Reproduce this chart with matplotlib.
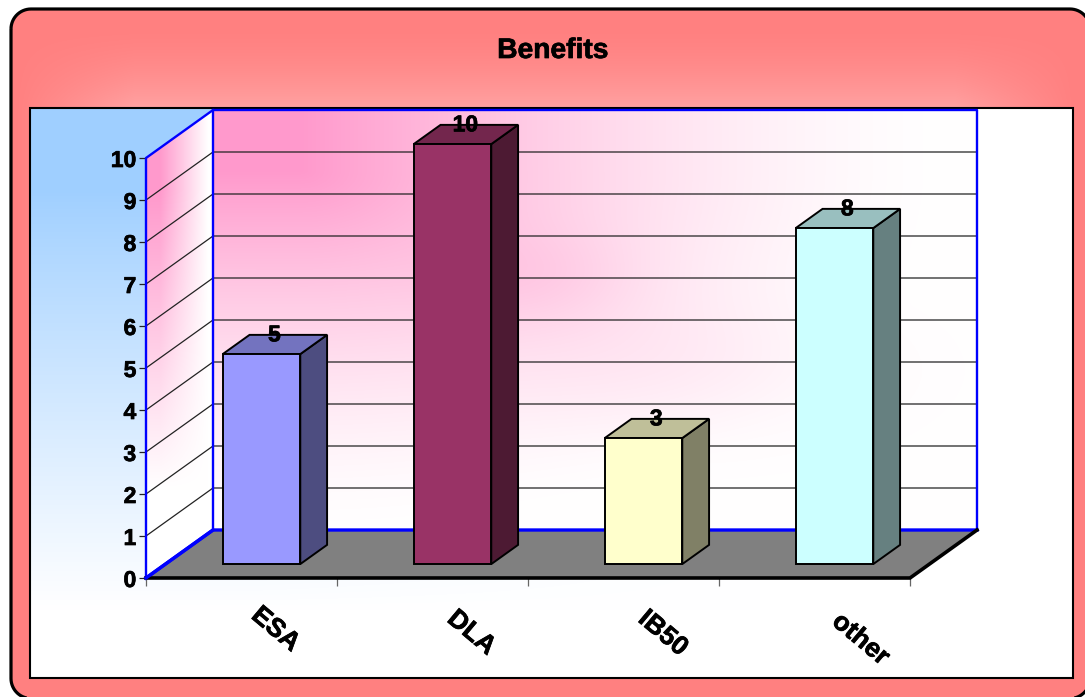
import matplotlib
matplotlib.use('Agg')
import matplotlib.pyplot as plt
import matplotlib.patheffects as pe
import numpy as np
from matplotlib.colors import to_rgb
from matplotlib.patches import Polygon, Rectangle

categories = ['ESA', 'DLA', 'IB50', 'other']
values = [5, 10, 3, 8]
bar_colors = ['#9999ff', '#993366', '#ffffcc', '#ccffff']
y_ticks = list(range(0, 11))

W, H = 1085, 697
plt.rcParams['font.family'] = ['Liberation Sans', 'DejaVu Sans']
plt.rcParams['font.weight'] = 'bold'

# slight stroke so the bold labels come out heavy enough
heavy = [pe.withStroke(linewidth=0.5, foreground='black')]

fig = plt.figure(figsize=(W / 100, H / 100), dpi=100, facecolor='white')

# background layer in pixel coordinates
bg = fig.add_axes([0, 0, 1, 1])
bg.set_xlim(0, W)
bg.set_ylim(H, 0)
bg.axis('off')

xx, yy = np.meshgrid(np.arange(W) + 0.5, np.arange(H) + 0.5)


def blend(c0, c1, t):
    c0 = np.array(to_rgb(c0))
    c1 = np.array(to_rgb(c1))
    return c0 + (c1 - c0) * np.clip(t, 0, 1)[..., None]


def paint(rgb, clip_patch):
    im = bg.imshow(rgb, extent=(0, W, H, 0), aspect='auto', interpolation='bilinear', zorder=clip_patch.get_zorder())
    im.set_clip_path(clip_patch)


def rounded_outline(x0, y0, x1, y1, r):
    # corner arcs as plain segments, going clockwise from the top left
    centers = [(x0 + r, y0 + r), (x1 - r, y0 + r), (x1 - r, y1 - r), (x0 + r, y1 - r)]
    pts = []
    for k, (cx, cy) in enumerate(centers):
        a = np.linspace(np.pi + k * np.pi / 2, 1.5 * np.pi + k * np.pi / 2, 16)
        pts.extend(zip(cx + r * np.cos(a), cy + r * np.sin(a)))
    return pts


# outer rounded frame, its right side runs off the canvas
outline = rounded_outline(11, 9, 1090, 698.5, 20)
clip = Polygon(outline, closed=True, fc='none', ec='none', zorder=1)
bg.add_patch(clip)
# lighter glow only in the title band
glow = np.clip((yy - 25) / 85, 0, 1) ** 1.6 * np.clip((530 - np.abs(xx - 545)) / 120, 0, 1) * (yy < 300)
paint(blend('#ff8080', '#ffa3a3', glow), clip)
bg.add_patch(Polygon(outline, closed=True, fc='none', ec='black', lw=2.3, zorder=2.1, clip_on=False))

# inner panel, blue fading towards white
panel = Rectangle((30, 108), 1043, 570, fc='none', ec='none', zorder=3)
bg.add_patch(panel)
fade = np.clip((yy - 190) / 420, 0, 1) ** 0.9
side_mask = np.clip((760 - xx) / 500, 0, 1)
paint(blend('#ffffff', '#9fcfff', (1 - fade) * side_mask), panel)
bg.add_patch(Rectangle((30, 108), 1043, 570, fc='none', ec='black', lw=1.5, zorder=3.5))

# back wall and side wall gradients
back = Polygon([(213, 109), (977, 109), (977, 530), (213, 530)], closed=True, fc='none', ec='none', zorder=4)
bg.add_patch(back)
dist = np.hypot(np.maximum(xx - 300, 0) / 660, np.maximum(yy - 170, 0) / 372)
lobe = (np.exp(-(((xx - 540) / 100) ** 2 + ((yy - 280) / 50) ** 2)) * 0.15
        + np.exp(-(((xx - 680) / 180) ** 2 + ((yy - 370) / 70) ** 2)) * 0.12)
paint(blend('#ffffff', '#ff99cc', np.clip(1 - dist, 0, 1) ** 1.6 + lobe), back)

side = Polygon([(146, 158), (213, 109), (213, 530), (146, 578)], closed=True, fc='none', ec='none', zorder=4)
bg.add_patch(side)
side_t = np.clip(1 - (xx - 160) / 48, 0, 1) * np.clip((490 - yy) / 300, 0, 1)
paint(blend('#ffffff', '#ff99cc', side_t), side)

# chart axes: front edge of the floor runs along the x axis
ax = fig.add_axes([146 / W, 1 - 578 / H, (910 - 146) / W, 420 / H], zorder=5)
ax.patch.set_alpha(0)
ax.set_xlim(0, len(categories))
ax.set_ylim(0, 10)
for spine in ax.spines.values():
    spine.set_visible(False)

DX = 67 / 191
DY = 48 / 42


def proj(x, y, d):
    # d = 0 on the front of the floor, d = 1 on the back wall
    return x + DX * d, y + DY * d


def poly(points, **kw):
    p = Polygon([proj(*q) for q in points], closed=True, clip_on=False, **kw)
    ax.add_patch(p)


n = len(categories)
poly([(0, 0, 0), (n, 0, 0), (n, 0, 1), (0, 0, 1)], fc='#808080', ec='none', zorder=1)

# gridlines on both walls
for t in y_ticks[1:-1]:
    ax.plot(*zip(proj(0, t, 0), proj(0, t, 1), proj(n, t, 1)), color='#222222', lw=0.9,
            clip_on=False, zorder=1.5)

blue = '#0000ff'
ax.plot(*zip(proj(0, 0, 0), proj(0, 10, 0), proj(0, 10, 1), proj(n, 10, 1), proj(n, 0, 1)),
        color=blue, lw=1.7, clip_on=False, zorder=2)
ax.plot(*zip(proj(0, 10, 1), proj(0, 0, 1)), color=blue, lw=1.7, clip_on=False, zorder=2)
ax.plot(*zip(proj(0, 0, 0), proj(0, 0, 1), proj(n, 0, 1)), color=blue, lw=2.4, clip_on=False, zorder=2)

# thick black edge along the front and right of the floor
ax.plot(*zip(proj(0, 0, 0), proj(n, 0, 0), proj(n, 0, 1)), color='black', lw=2.6,
        clip_on=False, zorder=2.5, solid_joinstyle='miter')
ax.plot(*zip(proj(0, 0, 0), proj(0, 0, 1)), color=blue, lw=2.4, clip_on=False, zorder=2.6)

# bars
half = 0.203
d0, d1 = 0.29, 0.69
for i, (v, c) in enumerate(zip(values, bar_colors)):
    c = np.array(to_rgb(c))
    x0, x1 = i + 0.503 - half, i + 0.503 + half
    poly([(x1, 0, d0), (x1, 0, d1), (x1, v, d1), (x1, v, d0)], fc=c * 0.5, ec='black', lw=1.4, zorder=3)
    poly([(x0, v, d0), (x1, v, d0), (x1, v, d1), (x0, v, d1)], fc=c * 0.75, ec='black', lw=1.4, zorder=3)
    poly([(x0, 0, d0), (x1, 0, d0), (x1, v, d0), (x0, v, d0)], fc=c, ec='black', lw=1.4, zorder=3.1)
    lx = proj(i + 0.5, v, (d0 + d1) / 2)[0]
    ly = proj(i + 0.5, v, d1)[1]
    ax.text(lx, ly, str(v), ha='center', va='center', fontsize=16.5, fontweight='bold', color='black', zorder=4,
            path_effects=heavy)

ax.set_xticks(range(n + 1))
ax.set_xticklabels([])
ax.set_yticks(y_ticks)
ax.set_yticklabels([str(t) for t in y_ticks], fontsize=16.5, fontweight='bold', path_effects=heavy)
ax.tick_params(axis='y', length=5, width=0.9, color='#222222', pad=2)
ax.tick_params(axis='x', length=6, width=0.9, color='#666666')

# rotated category labels, small per-label nudges in points
nudge_x = [9.5, 13, 13, 15]
nudge_y = [-24.5, -27, -27, -29]
for i, name in enumerate(categories):
    ax.annotate(name, (i + 0.5, 0), xytext=(nudge_x[i], nudge_y[i]), textcoords='offset points', ha='left',
                va='center', rotation=-40, rotation_mode='anchor', fontsize=19, fontweight='bold',
                annotation_clip=False, path_effects=heavy)

bg.text(553, 51, 'Benefits', ha='center', va='center', fontsize=20.3, fontweight='bold', zorder=6,
        path_effects=heavy)

fig.savefig('out.png', dpi=100)
